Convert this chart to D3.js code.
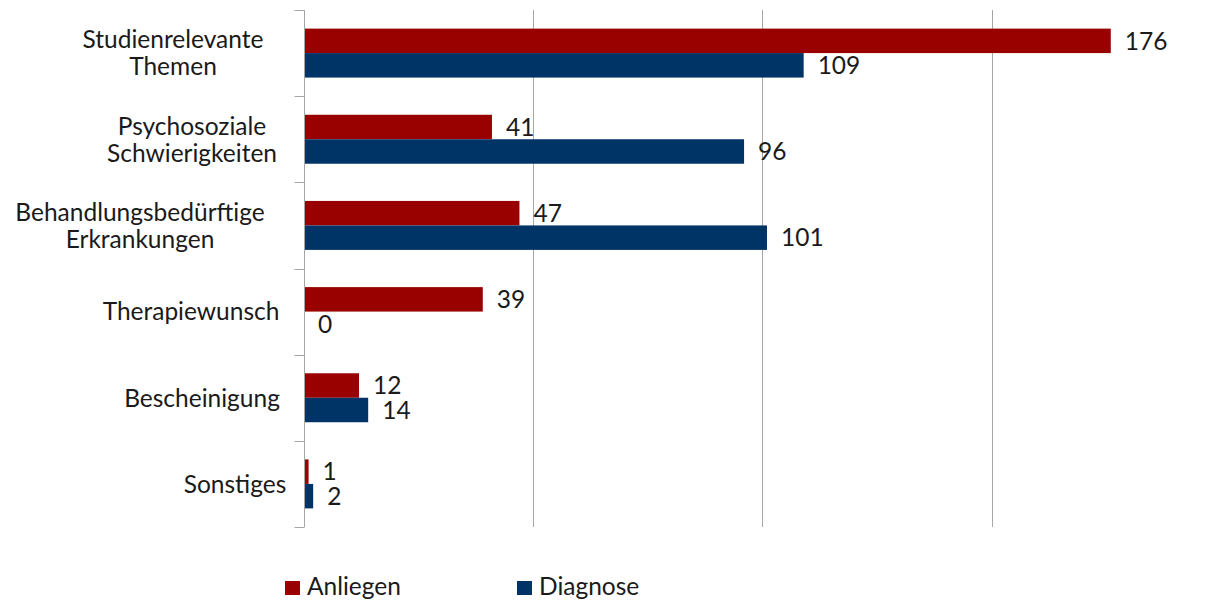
<!DOCTYPE html>
<html>
<head>
<meta charset="utf-8">
<script src="https://cdn.jsdelivr.net/npm/d3@7"></script>
<style>
  html, body { margin: 0; padding: 0; background: #fff; }
  svg text { font-family: Lato, "Open Sans", sans-serif; fill: #1a1a1a; }
</style>
</head>
<body>
<svg id="chart" width="1217" height="603"></svg>
<script>
// Anfragen der Studierenden nach Themenbereich
const categories = [
  ["Studienrelevante", "Themen"],
  ["Psychosoziale", "Schwierigkeiten"],
  ["Behandlungsbedürftige", "Erkrankungen"],
  ["Therapiewunsch"],
  ["Bescheinigung"],
  ["Sonstiges"]
];
const seriesNames = ["Anliegen", "Diagnose"];
const anliegen = [176, 41, 47, 39, 12, 1];
const diagnose = [109, 96, 101, 0, 14, 2];
const gridValues = [50, 100, 150, 200];

// horizontal centre of each wrapped category label block
const labelCenterX = [173, 192, 140, 191, 202, 235];

const colors = ["#990000", "#003366"];
const fontSize = 24.5;
const svg = d3.select("#chart");

const plotLeft = 304, plotTop = 10, plotBottom = 527;
const x = d3.scaleLinear().domain([0, 200]).range([plotLeft, plotLeft + 4.584 * 200]);
const keys = categories.map((c, i) => i);
const y = d3.scaleBand().domain(keys).range([plotTop, plotBottom]).paddingInner(0).paddingOuter(0);
const inner = d3.scaleBand().domain([0, 1]).range([0, y.bandwidth()]).paddingInner(0).paddingOuter(0.76);

// vertical gridlines
svg.append("g")
  .selectAll("line")
  .data(gridValues)
  .join("line")
  .attr("x1", d => Math.round(x(d)) + 0.5).attr("x2", d => Math.round(x(d)) + 0.5)
  .attr("y1", plotTop).attr("y2", plotBottom)
  .attr("stroke", "#a6a6a6").attr("stroke-width", 1);

// bars
const data = [];
keys.forEach(i => {
  data.push({ cat: i, s: 0, v: anliegen[i] });
  data.push({ cat: i, s: 1, v: diagnose[i] });
});

svg.append("g")
  .selectAll("rect")
  .data(data)
  .join("rect")
  .attr("x", x(0))
  .attr("y", d => y(d.cat) + inner(d.s))
  .attr("width", d => x(d.v) - x(0))
  .attr("height", inner.bandwidth())
  .attr("fill", d => colors[d.s]);

// value labels
svg.append("g")
  .selectAll("text")
  .data(data)
  .join("text")
  .attr("x", d => x(d.v) + 14)
  .attr("y", d => y(d.cat) + inner(d.s) + inner.bandwidth() / 2)
  .attr("dy", "0.36em")
  .attr("font-size", fontSize)
  .text(d => d.v);

// category axis with ticks at band boundaries
const axisG = svg.append("g").attr("transform", `translate(${plotLeft + 0.5},0)`);
axisG.append("line")
  .attr("x1", 0).attr("x2", 0).attr("y1", plotTop).attr("y2", plotBottom)
  .attr("stroke", "#a6a6a6");
const bounds = keys.map(k => y(k)).concat([plotBottom]);
axisG.selectAll("line.tick")
  .data(bounds)
  .join("line")
  .attr("class", "tick")
  .attr("x1", -10).attr("x2", 0)
  .attr("y1", d => Math.round(d) + 0.5).attr("y2", d => Math.round(d) + 0.5)
  .attr("stroke", "#a6a6a6");

// category labels
const labelG = svg.append("g");
categories.forEach((lines, i) => {
  const cy = y(i) + y.bandwidth() / 2;
  const lh = 27;
  const t = labelG.append("text")
    .attr("text-anchor", "middle")
    .attr("font-size", fontSize);
  lines.forEach((ln, j) => {
    t.append("tspan")
      .attr("x", labelCenterX[i])
      .attr("y", cy + (j - (lines.length - 1) / 2) * lh)
      .attr("dy", "0.36em")
      .text(ln);
  });
});

// legend
const legendX = [285, 517];
const legend = svg.append("g");
seriesNames.forEach((name, i) => {
  legend.append("rect")
    .attr("x", legendX[i]).attr("y", 581)
    .attr("width", 15).attr("height", 14)
    .attr("fill", colors[i]);
  legend.append("text")
    .attr("x", legendX[i] + 22).attr("y", 595)
    .attr("font-size", fontSize)
    .text(name);
});
</script>
</body>
</html>
